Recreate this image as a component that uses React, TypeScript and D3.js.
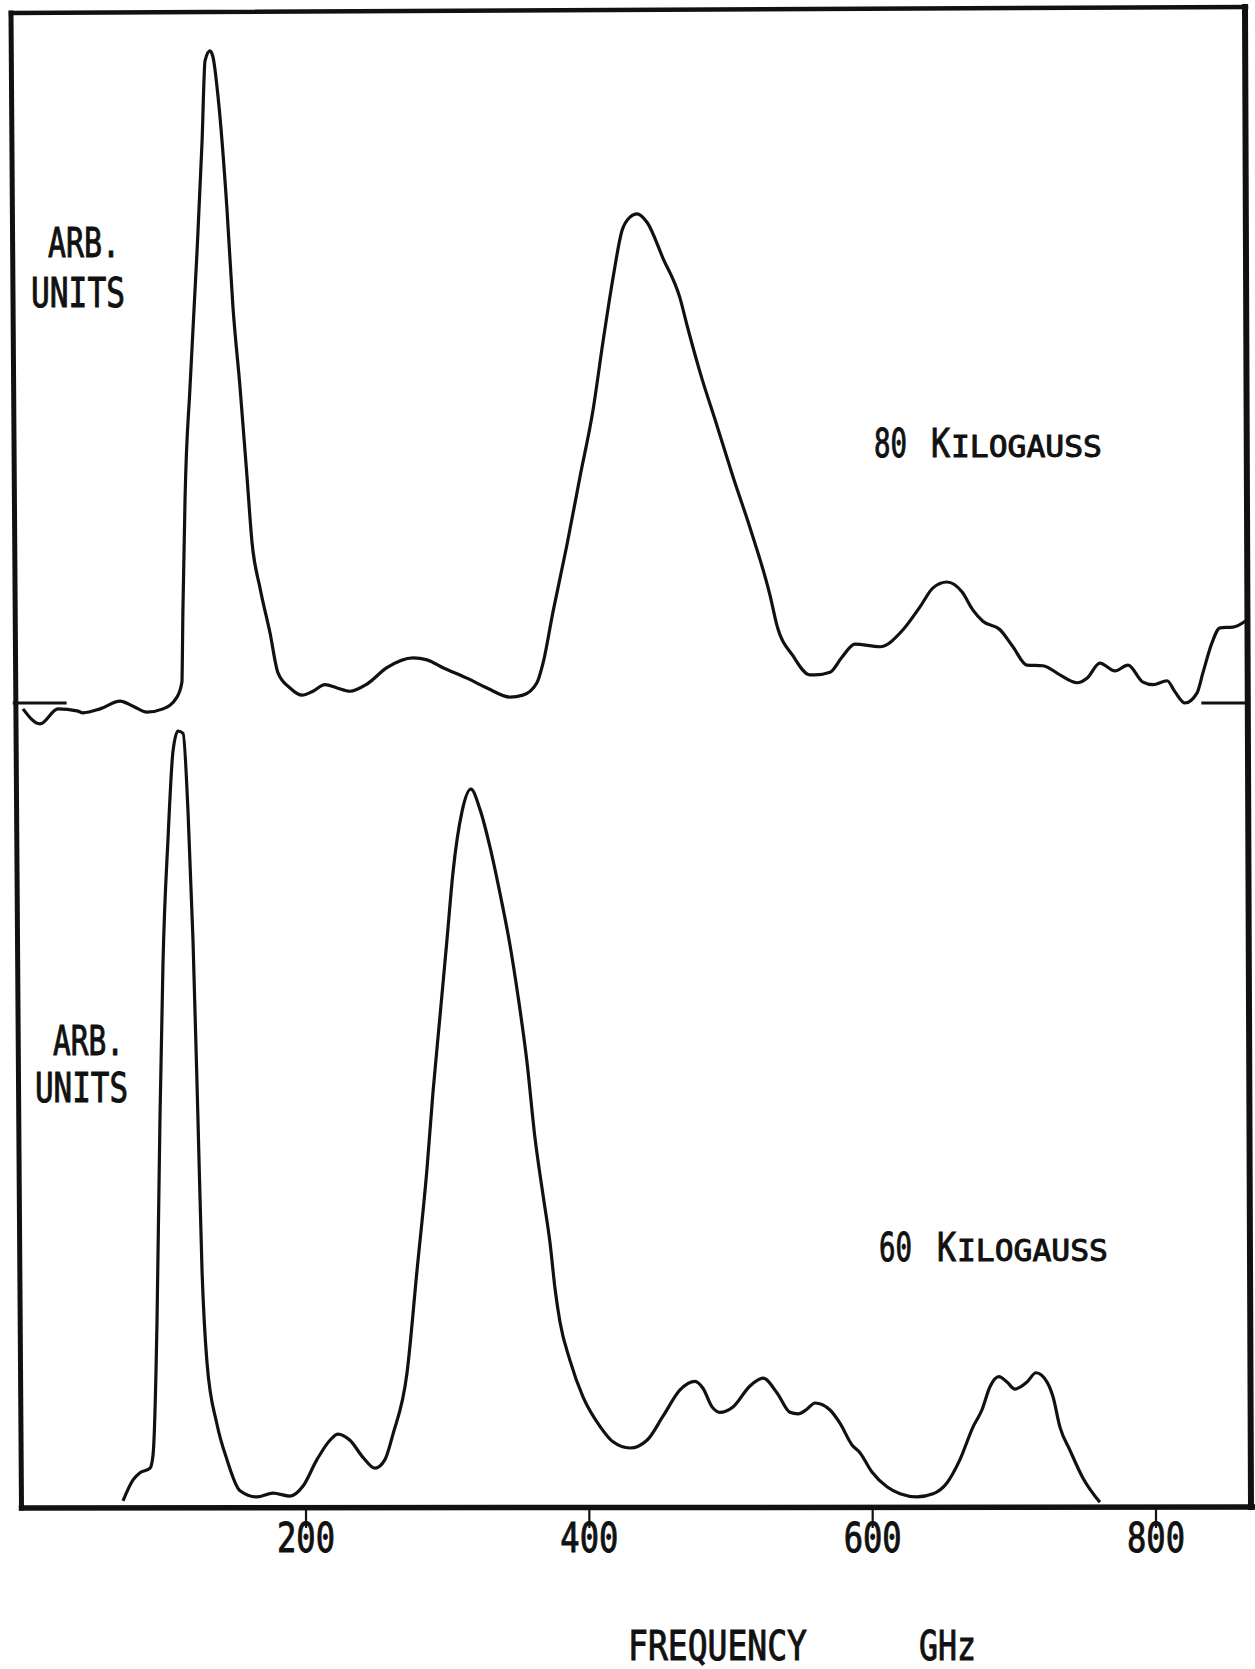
import React from "react";
import * as d3 from "d3";

// ---- data (frequency in GHz, intensity in arbitrary units) ----
const topFreq = [0.2, 12.2, 24.9, 38.3, 42.6, 54.6, 68.7, 77.9, 87.7, 99.0, 108.9, 112.4, 113.1, 114.6, 118.1, 123.0, 126.6, 128.7, 132.2, 134.3, 137.9, 144.2, 148.4, 153.4, 158.3, 161.9, 167.5, 174.6, 180.2, 188.7, 197.2, 204.9, 213.4, 221.9, 231.0, 243.0, 257.1, 275.5, 285.4, 296.7, 313.6, 327.7, 344.0, 353.1, 363.0, 367.3, 374.3, 384.2, 393.4, 402.6, 409.6, 416.7, 423.0, 428.7, 433.6, 440.7, 452.0, 464.0, 468.9, 478.1, 490.1, 501.4, 513.4, 527.5, 532.5, 543.8, 555.7, 559.3, 569.9, 578.3, 587.5, 605.1, 621.4, 633.4, 642.6, 652.4, 663.0, 670.8, 677.8, 689.9, 699.0, 708.9, 720.2, 732.2, 744.2, 751.3, 760.4, 771.0, 780.2, 790.8, 797.9, 807.8, 813.4, 820.5, 828.9, 833.1, 839.5, 845.2, 854.3, 864.2];
const topVal = [-0.9, -3.2, -0.9, -1.2, -1.5, -0.9, 0.3, -0.5, -1.4, -0.9, 0.9, 3.2, 14.2, 31.2, 48.3, 68.8, 85.8, 98.2, 99.7, 98.8, 92.7, 75.5, 60.6, 48.3, 34.7, 24.5, 17.6, 10.7, 4.6, 2.3, 1.2, 1.8, 2.8, 2.3, 1.8, 2.9, 5.4, 6.9, 6.6, 5.4, 3.8, 2.3, 0.9, 1.2, 3.1, 6.1, 13.9, 24.2, 34.6, 44.8, 55.2, 65.0, 72.2, 74.3, 74.8, 73.5, 68.0, 61.9, 57.8, 50.6, 42.4, 34.6, 26.8, 16.5, 11.8, 7.2, 4.3, 4.3, 4.7, 7.0, 9.0, 8.6, 11.2, 14.7, 17.6, 18.5, 17.0, 14.2, 12.5, 11.2, 8.6, 5.8, 5.7, 4.3, 3.1, 3.8, 6.1, 4.9, 5.8, 3.2, 2.8, 3.4, 1.7, 0, 1.5, 4.6, 9.2, 11.5, 11.6, 12.7];

const bottomFreq = [70.8, 77.9, 82.8, 89.9, 92.0, 94.8, 96.9, 99.0, 102.6, 106.1, 109.6, 113.2, 116.7, 120.2, 123.7, 126.6, 130.1, 137.1, 144.2, 153.4, 165.4, 176.7, 188.7, 197.9, 207.7, 216.9, 222.6, 231.0, 240.2, 248.7, 255.7, 261.4, 271.3, 278.3, 285.4, 289.6, 294.6, 299.5, 303.7, 310.1, 316.4, 322.8, 329.8, 336.9, 344.0, 349.6, 356.0, 361.6, 367.3, 372.2, 375.8, 379.3, 386.3, 395.5, 407.5, 416.7, 428.7, 440.7, 452.0, 464.0, 474.6, 480.2, 486.6, 492.2, 501.4, 513.4, 522.6, 532.5, 541.6, 547.3, 553.6, 559.3, 569.9, 576.9, 585.4, 591.0, 599.5, 610.1, 619.3, 631.3, 642.6, 652.4, 661.6, 670.8, 677.1, 682.8, 689.1, 694.8, 700.4, 708.9, 715.3, 723.1, 727.3, 732.2, 739.3, 748.5, 760.4];
const bottomVal = [0.8, 3.5, 4.4, 5.0, 6.7, 23.8, 50.1, 69.8, 86.2, 97.4, 100, 99.7, 89.6, 73.1, 50.1, 30.4, 18.6, 10.7, 6.1, 2.1, 1.3, 1.8, 1.4, 2.7, 6.1, 8.6, 9.4, 8.6, 6.4, 5.0, 6.1, 9.4, 17.3, 30.4, 43.6, 53.4, 63.3, 73.1, 81.7, 89.6, 92.5, 89.9, 85.1, 79.1, 72.4, 65.9, 57.3, 47.6, 40.2, 34.1, 28.1, 23.8, 18.9, 14.2, 10.4, 8.4, 7.6, 8.6, 11.7, 15.1, 16.2, 15.3, 12.9, 12.2, 12.9, 15.6, 16.6, 14.7, 12.2, 12.0, 12.6, 13.4, 12.5, 10.8, 8.0, 7.0, 4.5, 2.6, 1.7, 1.3, 1.7, 3.1, 6.1, 10.3, 12.5, 15.5, 16.8, 16.1, 15.2, 16.1, 17.3, 16.1, 14.2, 10.3, 7.3, 3.7, 0.6];

const tickValues = [200, 400, 600, 800];
const topBaselineMarks = [[-7, 31], [832, 865]];
const topLabel = { num: "80", cap: "K", rest: "ILOGAUSS" };
const bottomLabel = { num: "60", cap: "K", rest: "ILOGAUSS" };
const yLabelLines = ["ARB.", "UNITS"];
const xTitle = ["FREQUENCY", "GHz"];

const W = 1255;
const H = 1669;
const INK = "#111";
const FONT = "'DejaVu Sans Mono', 'Liberation Mono', monospace";
const ADV = 0.602; // monospace advance per em

function zip(a: number[], b: number[]): [number, number][] {
  const n = Math.min(a.length, b.length);
  const out: [number, number][] = [];
  for (let i = 0; i < n; i++) out.push([a[i], b[i]]);
  return out;
}

// text squeezed horizontally to a target width (keeps real bbox)
function Lett(props: {
  s: string;
  x: number;
  y: number;
  size: number;
  len: number;
  anchor?: "start" | "middle";
}) {
  const { s, x, y, size, len, anchor } = props;
  const natural = s.length * ADV * size;
  const sx = len / natural;
  return (
    <text
      transform={`translate(${x},${y}) scale(${sx.toFixed(4)},1)`}
      x={0}
      y={0}
      textAnchor={anchor || "start"}
      fontFamily={FONT}
      fontSize={size}
      fill={INK}
      stroke={INK}
      strokeWidth={1}
    >
      {s}
    </text>
  );
}

export default function App() {
  const x = d3.scaleLinear().domain([0, 800]).range([22.7, 1156]);
  const yTop = d3.scaleLinear().domain([0, 100]).range([703, 49]);
  const yBot = d3.scaleLinear().domain([0, 100]).range([1507, 731]);

  const lineTop = d3
    .line<[number, number]>()
    .x((d) => x(d[0]))
    .y((d) => yTop(d[1]))
    .curve(d3.curveMonotoneX);
  const lineBot = d3
    .line<[number, number]>()
    .x((d) => x(d[0]))
    .y((d) => yBot(d[1]))
    .curve(d3.curveMonotoneX);

  const topPath = lineTop(zip(topFreq, topVal)) || "";
  const botPath = lineBot(zip(bottomFreq, bottomVal)) || "";

  return (
    <svg
      width={W}
      height={H}
      viewBox={`0 0 ${W} ${H}`}
      style={{ position: "absolute", left: 0, top: 0, background: "#fff" }}
    >
      <rect x={0} y={0} width={W} height={H} fill="#fff" />
      {/* frame */}
      <g stroke={INK} fill="none" strokeLinecap="square">
        <line x1={11} y1={13} x2={1246} y2={7} strokeWidth={4.5} />
        <line x1={11} y1={13} x2={21.5} y2={1508} strokeWidth={5} />
        <line x1={1245} y1={7} x2={1251} y2={1507} strokeWidth={6} />
        <line x1={21.5} y1={1508} x2={1255} y2={1507} strokeWidth={5.5} />
      </g>
      {/* x ticks */}
      <g stroke={INK} strokeWidth={2.2}>
        {tickValues.map((t) => (
          <line key={t} x1={x(t)} x2={x(t)} y1={1508} y2={1528} />
        ))}
      </g>
      <g>
        {tickValues.map((t) => (
          <Lett key={t} s={String(t)} x={x(t)} y={1552} size={41} len={58} anchor="middle" />
        ))}
      </g>
      {/* baseline markers for top trace */}
      <g stroke={INK} strokeWidth={3}>
        {topBaselineMarks.map((m, i) => (
          <line key={i} x1={x(m[0])} x2={x(m[1])} y1={yTop(0)} y2={yTop(0)} />
        ))}
      </g>
      {/* traces */}
      <path d={topPath} fill="none" stroke={INK} strokeWidth={3.2} strokeLinejoin="round" />
      <path d={botPath} fill="none" stroke={INK} strokeWidth={3.2} strokeLinejoin="round" />

      {/* y labels */}
      <Lett s={yLabelLines[0]} x={48} y={257} size={41} len={72} />
      <Lett s={yLabelLines[1]} x={31} y={307} size={41} len={94} />
      <Lett s={yLabelLines[0]} x={53} y={1055} size={41} len={71} />
      <Lett s={yLabelLines[1]} x={35} y={1102} size={41} len={93} />

      {/* field labels */}
      <Lett s={topLabel.num} x={874} y={457} size={39} len={33} />
      <Lett s={topLabel.cap} x={931} y={457} size={39} len={19} />
      <Lett s={topLabel.rest} x={951} y={457} size={30} len={151} />
      <Lett s={bottomLabel.num} x={879} y={1261} size={39} len={33} />
      <Lett s={bottomLabel.cap} x={937} y={1261} size={39} len={19} />
      <Lett s={bottomLabel.rest} x={957} y={1261} size={30} len={151} />

      {/* x title */}
      <Lett s={xTitle[0]} x={628} y={1660} size={41} len={179} />
      <Lett s={xTitle[1]} x={919} y={1660} size={41} len={57} />
    </svg>
  );
}
